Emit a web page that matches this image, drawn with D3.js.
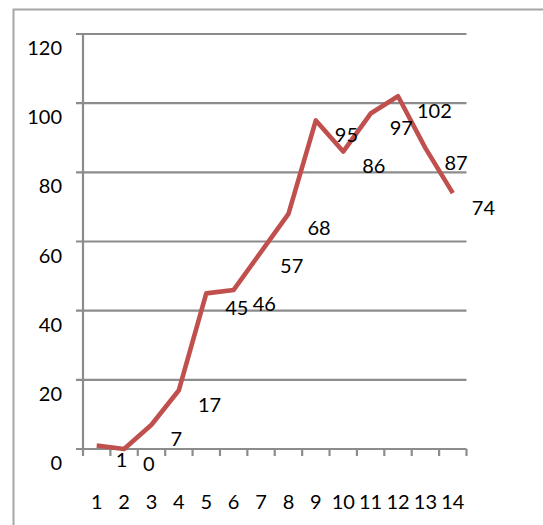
<!DOCTYPE html>
<html>
<head>
<meta charset="utf-8">
<script src="https://cdn.jsdelivr.net/npm/d3@7"></script>
<style>
  html, body { margin: 0; padding: 0; background: #fff; }
  svg { display: block; }
  text { font-family: Lato, "Open Sans", sans-serif; fill: #000; }
</style>
</head>
<body>
<svg id="chart" width="543" height="525"></svg>
<script>
const categories = ["1","2","3","4","5","6","7","8","9","10","11","12","13","14"];
const values = [1, 0, 7, 17, 45, 46, 57, 68, 95, 86, 97, 102, 87, 74];
const yTicks = [0, 20, 40, 60, 80, 100, 120];

const svg = d3.select("#chart");
const W = 543, H = 525;

const plotLeft = 83, plotRight = 466.5, plotTop = 34, plotBottom = 449;
const x = d3.scaleBand().domain(categories).range([plotLeft, plotRight]).padding(0);
const y = d3.scaleLinear().domain([0, 120]).range([plotBottom, plotTop]);
const bw = x.bandwidth();

// outer frame (extends beyond canvas on right/bottom)
svg.append("path")
  .attr("d", `M13.5,${H + 5} L13.5,9.5 L${W + 5},9.5`)
  .attr("fill", "none")
  .attr("stroke", "#a6a6a6")
  .attr("stroke-width", 2);

// gridlines (with tick stub to the left of axis)
svg.append("g").selectAll("line")
  .data(yTicks)
  .join("line")
  .attr("x1", plotLeft - 7)
  .attr("x2", plotRight)
  .attr("y1", d => y(d))
  .attr("y2", d => y(d))
  .attr("stroke", "#8c8c8c")
  .attr("stroke-width", 2.2);

// y axis line
svg.append("line")
  .attr("x1", plotLeft).attr("x2", plotLeft)
  .attr("y1", y(120)).attr("y2", y(0) + 7)
  .attr("stroke", "#8c8c8c")
  .attr("stroke-width", 2.2);

// x tick marks at band boundaries
const boundaries = categories.map(c => x(c)).concat([x(categories[categories.length - 1]) + bw]);
svg.append("g").selectAll("line")
  .data(boundaries.slice(1))
  .join("line")
  .attr("x1", d => d).attr("x2", d => d)
  .attr("y1", y(0)).attr("y2", y(0) + 7)
  .attr("stroke", "#8c8c8c")
  .attr("stroke-width", 2.2);

// y tick labels
svg.append("g").selectAll("text")
  .data(yTicks)
  .join("text")
  .attr("x", 62)
  .attr("y", d => y(d) + 13)
  .attr("text-anchor", "end")
  .attr("dominant-baseline", "central")
  .attr("font-size", 20)
  .text(d => d);

// x tick labels
svg.append("g").selectAll("text")
  .data(categories)
  .join("text")
  .attr("x", d => x(d) + bw / 2)
  .attr("y", 501)
  .attr("text-anchor", "middle")
  .attr("dominant-baseline", "central")
  .attr("font-size", 20)
  .text(d => d);

// line
const line = d3.line()
  .x((d, i) => x(categories[i]) + bw / 2)
  .y(d => y(d));

svg.append("path")
  .datum(values)
  .attr("d", line)
  .attr("fill", "none")
  .attr("stroke", "#c0504d")
  .attr("stroke-width", 4.6)
  .attr("stroke-linejoin", "round")
  .attr("stroke-linecap", "butt");

// data labels
svg.append("g").selectAll("text")
  .data(values)
  .join("text")
  .attr("x", (d, i) => x(categories[i]) + bw / 2 + 19)
  .attr("y", d => y(d) + 13.5)
  .attr("text-anchor", "start")
  .attr("dominant-baseline", "central")
  .attr("font-size", 20)
  .text(d => d);
</script>
</body>
</html>
